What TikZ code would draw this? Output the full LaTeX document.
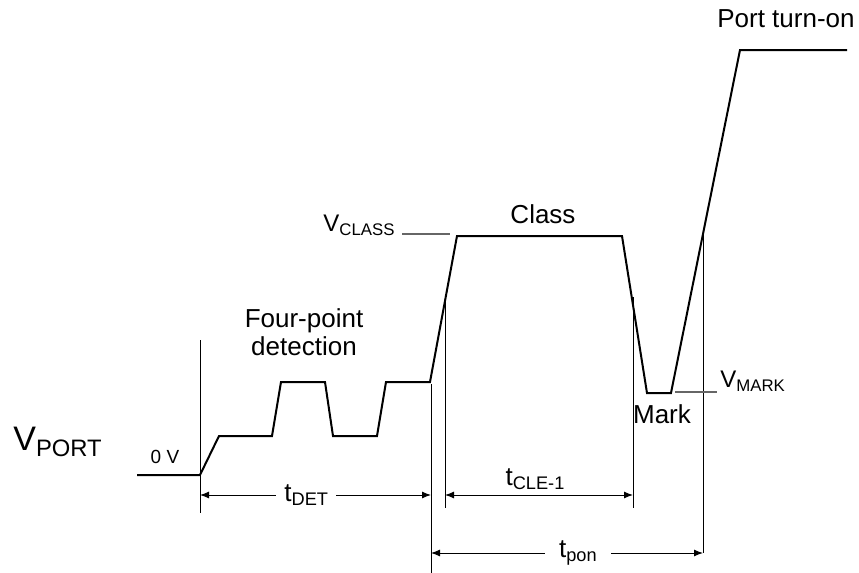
\documentclass[tikz,border=0pt]{standalone}
\usepackage{fontspec}
\setmainfont{Liberation Sans}
\usetikzlibrary{arrows.meta}
\newcommand{\subtxt}[1]{\raisebox{-0.35ex}{\scalebox{0.7}{#1}}}

\begin{document}
\begin{tikzpicture}[x=0.5pt,y=-0.5pt,>={Latex[length=4.5pt,width=3.5pt]}]
  \tikzstyle{wave}=[line width=1pt,line join=miter]
  \tikzstyle{guide}=[line width=0.5pt]
  \tikzstyle{reflevel}=[line width=0.6pt,black!60]
  \tikzstyle{dimline}=[line width=0.5pt,<->]
  \tikzstyle{lbl}=[inner sep=0pt,font=\fontsize{13}{14}\selectfont]
  \useasboundingbox (0,0) rectangle (859,573);
  \draw[wave] (137,475) -- (200,475) -- (219,436) -- (272,436) -- (281,382) -- (325,382)
    -- (333,436) -- (377,436) -- (386,382) -- (430,382) -- (457,236) -- (622,236)
    -- (647,393) -- (671,393) -- (740,50) -- (847,50);
  \draw[guide] (200,340) -- (200,513);
  \draw[guide] (431,384) -- (431,573);
  \draw[guide] (445,295) -- (445,508);
  \draw[guide] (633,297) -- (633,508);
  \draw[guide] (703,230) -- (703,553);
  \coordinate (det0) at (200,495);
  \coordinate (det1) at (431,495);
  \coordinate (cle0) at (445,495);
  \coordinate (cle1) at (633,495);
  \coordinate (pon0) at (431,553);
  \coordinate (pon1) at (703,553);
  \draw[dimline] (det0) -- node[pos=0.46,fill=white,inner xsep=4pt,font=\fontsize{13}{14}\selectfont] (tdet) {t\subtxt{DET}} (det1);
  \draw[dimline] (cle0) -- (cle1);
  \node[lbl,anchor=base] (tcle) at (535,485) {t\subtxt{CLE-1}};
  \draw[dimline] (pon0) -- node[pos=0.54,fill=white,inner xsep=7pt,font=\fontsize{13}{14}\selectfont] (tpon) {t\subtxt{pon}} (pon1);
  \coordinate (vc0) at (402,234);
  \coordinate (vc1) at (450,234);
  \draw[reflevel] (vc0) -- (vc1);
  \coordinate (vm0) at (675,392);
  \coordinate (vm1) at (717,392);
  \draw[reflevel] (vm0) -- (vm1);
  \node[lbl,anchor=base west,font=\fontsize{17}{20}\selectfont] (vport) at (13,450) {V\subtxt{PORT}};
  \node[lbl,anchor=base,font=\fontsize{9.5}{11}\selectfont] (zerov) at (165,463) {0 V};
  \node[lbl,anchor=base,align=center] (fourpt) at (304,355) {Four-point\\detection};
  \node[lbl,anchor=base] (class) at (543,223) {Class};
  \node[lbl,anchor=base west,font=\fontsize{12}{14}\selectfont] (vclass) at (323,231) {V\subtxt{CLASS}};
  \node[lbl,anchor=base] (mark) at (662,423) {Mark};
  \node[lbl,anchor=base west,font=\fontsize{12}{14}\selectfont] (vmark) at (720,387) {V\subtxt{MARK}};
  \node[lbl,anchor=base] (turnon) at (786,27) {Port turn-on};
\end{tikzpicture}
\end{document}
